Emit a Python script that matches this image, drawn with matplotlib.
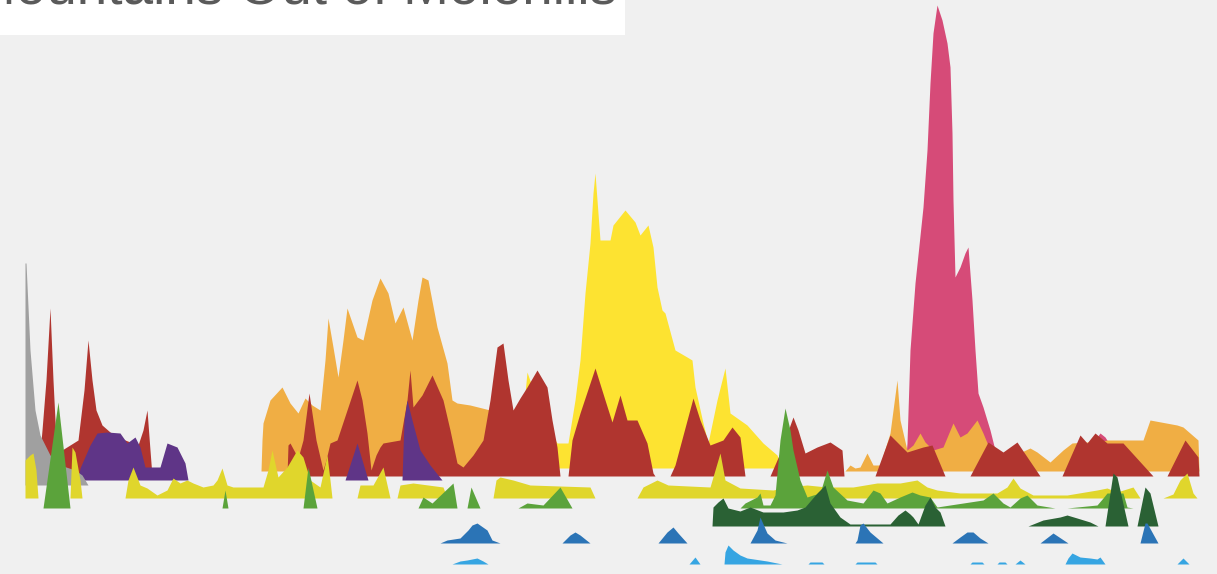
import numpy as np
import matplotlib.pyplot as plt
from matplotlib.patches import Rectangle

# Time index (t) and height of each "mountain".
# Zero heights separate the separate bursts of each series.
yellow_t = [518, 527, 535, 545, 552, 557, 568, 575, 580, 585, 590, 593, 595, 600, 610, 613,
            625, 635, 640, 648, 653, 657, 662, 665, 675, 687, 692, 695, 703, 708, 717, 725,
            730, 747, 763, 777, 782]
yellow_h = [0, 96, 73, 48, 33, 25, 25, 68, 108, 175, 225, 275, 295, 228, 228, 243,
            258, 246, 233, 243, 221, 181, 158, 155, 118, 111, 108, 81, 45, 25, 68, 100,
            55, 43, 25, 13, 0]

pink_t = [905, 907, 910, 915, 923, 927, 930, 933, 937, 942, 947, 950, 952, 953, 955, 960,
          965, 968, 972, 975, 978, 983, 990, 995, 1000,
          1090, 1095, 1100, 1105, 1110, 1115]
pink_h = [0, 25, 118, 185, 261, 318, 385, 435, 463, 448, 425, 401, 335, 268, 191, 201,
          215, 221, 168, 118, 75, 61, 38, 18, 0,
          0, 28, 35, 31, 23, 0]

orange_t = [261, 262, 263, 270, 282, 290, 298, 305, 312, 320, 325, 328, 333, 338, 343, 347,
            357, 363, 372, 380, 388, 395, 403, 412, 418, 422, 428, 437, 447, 452, 457, 470,
            490, 500, 515, 520,
            845, 850, 855, 860, 867, 873, 880, 890, 897, 900, 907, 913, 920, 925, 933, 943,
            953, 960, 967, 977, 983, 990, 1000, 1015, 1030, 1037, 1050, 1063, 1072, 1085,
            1098, 1107, 1133, 1143, 1150, 1177, 1183, 1198, 1199]
orange_h = [0, 31, 48, 71, 84, 68, 58, 73, 66, 61, 111, 153, 124, 94, 131, 163,
            134, 131, 171, 193, 178, 148, 164, 131, 171, 194, 191, 144, 108, 71, 68, 66,
            61, 41, 11, 0,
            0, 6, 3, 4, 18, 6, 6, 38, 91, 51, 21, 26, 38, 29, 21, 24,
            48, 34, 38, 51, 38, 21, 16, 16, 23, 19, 9, 21, 28, 29,
            29, 31, 31, 31, 51, 46, 44, 31, 0]

red_t = [38, 42, 46, 50, 53, 56, 62, 70, 78, 84, 88, 92, 96, 102, 110, 125, 138, 143, 147,
         150, 152,
         287, 288, 290, 298, 303, 309, 316, 323, 326, 330, 337, 347, 357, 362, 367, 371,
         376, 380, 383, 400, 407, 410, 413, 422, 432, 443, 450, 457, 463, 473, 483, 490,
         497, 503, 508, 513, 520, 527, 537, 547, 552, 557, 560,
         568, 572, 580, 595, 605, 612, 620, 627, 637, 647, 653, 655,
         670, 675, 693, 700, 710, 723, 732, 740, 745,
         770, 780, 793, 798, 805, 817, 830, 842, 844,
         875, 890, 907, 923, 932, 945,
         970, 988, 1003, 1017, 1040,
         1062, 1080, 1087, 1095, 1107, 1123, 1153,
         1167, 1185, 1198, 1199]
red_h = [0, 46, 96, 168, 96, 36, 26, 31, 36, 86, 136, 96, 66, 51, 44, 36, 31, 46, 66,
         26, 0,
         0, 31, 33, 18, 36, 83, 36, 6, 16, 33, 36, 66, 96, 76, 43, 6,
         21, 29, 33, 36, 76, 106, 69, 81, 101, 76, 46, 13, 9, 21, 36, 76,
         129, 133, 96, 66, 78, 89, 106, 89, 56, 29, 0,
         0, 36, 63, 108, 76, 54, 81, 56, 56, 33, 3, 0,
         0, 11, 78, 56, 31, 36, 49, 39, 0,
         0, 23, 59, 46, 23, 29, 34, 26, 0,
         0, 41, 24, 29, 31, 0,
         0, 34, 24, 34, 0,
         0, 41, 33, 43, 33, 33, 0,
         0, 36, 19, 0]

purple_t = [78, 80, 90, 97, 107, 120, 127, 135, 140, 145, 160, 167, 177, 185, 188,
            345, 357, 368,
            402, 404, 407, 412, 420, 430, 442]
purple_h = [0, 12, 35, 47, 48, 47, 37, 43, 33, 13, 13, 37, 33, 17, 0,
            0, 37, 0,
            0, 60, 80, 60, 30, 15, 0]

grey_t = [25, 25, 26, 30, 35, 40, 50, 60, 75, 82, 88]
grey_h = [0, 222, 222, 135, 75, 50, 30, 20, 15, 10, 0]

olive_t = [25, 25, 30, 33, 36, 38,
           70, 72, 75, 80, 82,
           125, 128, 133, 140, 147, 157, 167, 173, 180, 187, 193, 203, 213, 217, 222, 227,
           233, 263, 268, 272, 278, 287, 297, 303, 310, 320, 327, 330, 332,
           357, 360, 373, 383, 390,
           397, 400, 413, 443, 447,
           493, 496, 500, 513, 530, 590, 595,
           637, 643, 657, 668, 710, 720, 725, 740, 773, 787, 807, 827, 853, 877, 900, 917,
           927, 937, 960, 997, 1007, 1013, 1020, 1033, 1067, 1097, 1107, 1117, 1133, 1140,
           1163, 1173, 1180, 1187, 1193, 1197]
olive_h = [0, 38, 43, 45, 28, 0,
           0, 51, 46, 18, 0,
           0, 18, 31, 13, 10, 3, 8, 20, 15, 18, 15, 11, 13, 18, 30, 13,
           11, 11, 28, 48, 21, 31, 48, 41, 18, 11, 43, 18, 0,
           0, 13, 13, 31, 0,
           0, 13, 15, 11, 0,
           0, 18, 21, 18, 13, 11, 0,
           0, 11, 18, 13, 11, 45, 18, 10, 8, 11, 13, 11, 11, 15, 15, 18,
           11, 8, 5, 5, 11, 20, 10, 3, 3, 8, 10, 6, 11, 0,
           0, 4, 18, 25, 5, 0]

green_t = [43, 58, 70,
           222, 225, 228,
           303, 308, 317,
           418, 423, 432, 453, 457,
           467, 471, 480,
           518, 527, 543, 560, 572,
           740, 745, 757, 760, 763, 770, 775, 780, 785, 790, 793, 800, 807, 813, 820, 827,
           833, 847, 863, 873, 880, 887, 900, 912, 920, 930, 937, 950, 983, 993, 1003,
           1010, 1020, 1027, 1037, 1055,
           1067, 1097, 1103, 1107, 1113, 1123, 1127, 1133]
green_h = [0, 106, 0,
           0, 18, 0,
           0, 41, 0,
           0, 11, 5, 25, 0,
           0, 21, 0,
           0, 5, 3, 21, 0,
           0, 5, 11, 15, 3, 3, 13, 68, 100, 78, 58, 28, 11, 13, 15, 38,
           21, 8, 5, 18, 15, 5, 11, 16, 13, 11, 1, 3, 8, 15, 5,
           1, 10, 13, 3, 0,
           0, 3, 10, 15, 15, 15, 1, 0]

dkgreen_t = [712, 713, 718, 723, 728, 740, 750, 763, 783, 797, 805, 817, 825, 830, 840, 850,
             890, 898, 905, 910, 913, 918, 925, 930, 935, 940, 945,
             1028, 1043, 1060, 1067, 1077, 1090, 1098,
             1105, 1113, 1117, 1128,
             1137, 1145, 1150, 1158]
dkgreen_h = [0, 19, 24, 28, 18, 15, 19, 14, 14, 16, 19, 33, 41, 23, 9, 2,
             2, 11, 16, 12, 9, 2, 21, 29, 19, 14, 0,
             0, 6, 9, 11, 8, 4, 0,
             0, 53, 49, 0,
             0, 39, 33, 0]

blue_t = [440, 447, 460, 468, 472, 477, 487, 492, 500,
          562, 570, 575, 580, 590,
          658, 667, 673, 678, 687,
          750, 757, 760, 767, 775, 787,
          855, 857, 860, 863, 870, 883,
          952, 960, 967, 973, 980, 988,
          1040, 1053, 1068,
          1140, 1145, 1147, 1158]
blue_h = [0, 3, 5, 13, 18, 20, 13, 3, 0,
          0, 8, 11, 8, 0,
          0, 11, 16, 10, 0,
          0, 13, 26, 10, 3, 0,
          0, 3, 18, 20, 11, 0,
          0, 6, 11, 11, 5, 0,
          0, 10, 0,
          0, 20, 20, 0]

ltblue_t = [452, 460, 467, 477, 483, 488,
            689, 695, 700,
            724, 725, 728, 733, 740, 747, 767, 782,
            808, 810, 822, 824,
            855, 857, 875, 877,
            970, 972, 982, 984,
            997, 999, 1005, 1007,
            1015, 1020, 1025,
            1065, 1068, 1072, 1080, 1090, 1097, 1100, 1105,
            1177, 1183, 1189]
ltblue_h = [0, 3, 4, 6, 3, 0,
            0, 7, 0,
            0, 12, 19, 14, 9, 6, 3, 0,
            0, 2, 2, 0,
            0, 2, 2, 0,
            0, 2, 2, 0,
            0, 2, 2, 0,
            0, 4, 0,
            0, 6, 11, 7, 6, 5, 7, 0,
            0, 6, 0]

# (times, heights, baseline, colour) -- drawn back to front
series = [
    (yellow_t, yellow_h, 468, '#fde331'),
    (pink_t, pink_h, 468, '#d64b78'),
    (orange_t, orange_h, 471, '#f0ae44'),
    (red_t, red_h, 476, '#b0352f'),
    (purple_t, purple_h, 480, '#5f3587'),
    (grey_t, grey_h, 485, '#a0a0a0'),
    (olive_t, olive_h, 498, '#e0d62c'),
    (green_t, green_h, 508, '#5ba33b'),
    (dkgreen_t, dkgreen_h, 526, '#2a6134'),
    (blue_t, blue_h, 543, '#2b74b6'),
    (ltblue_t, ltblue_h, 564, '#36a5e2'),
]

fig = plt.figure(figsize=(12.17, 5.74), dpi=100, facecolor='#f0f0f0')
ax = fig.add_axes([0, 0, 1, 1])
ax.set_facecolor('#f0f0f0')

for t, h, base, color in series:
    t = np.array(t, dtype=float)
    h = np.array(h, dtype=float)
    ax.fill_between(t, base, base - h, color=color, linewidth=0)

ax.set_xlim(0, 1217)
ax.set_ylim(574, 0)
ax.axis('off')

# Title box, cut off at the top edge
fig.patches.append(Rectangle((0, 1 - 35 / 574), 625 / 1217, 35 / 574,
                             transform=fig.transFigure, facecolor='white',
                             edgecolor='none', zorder=5))
fig.text(-30 / 1217, 1 - 4 / 574, 'Mountains Out of Molehills', fontsize=39.5,
         family='Liberation Sans', color='#5a5a5a', va='baseline', ha='left', zorder=6)

fig.savefig('out.png', dpi=100, facecolor=fig.get_facecolor())
